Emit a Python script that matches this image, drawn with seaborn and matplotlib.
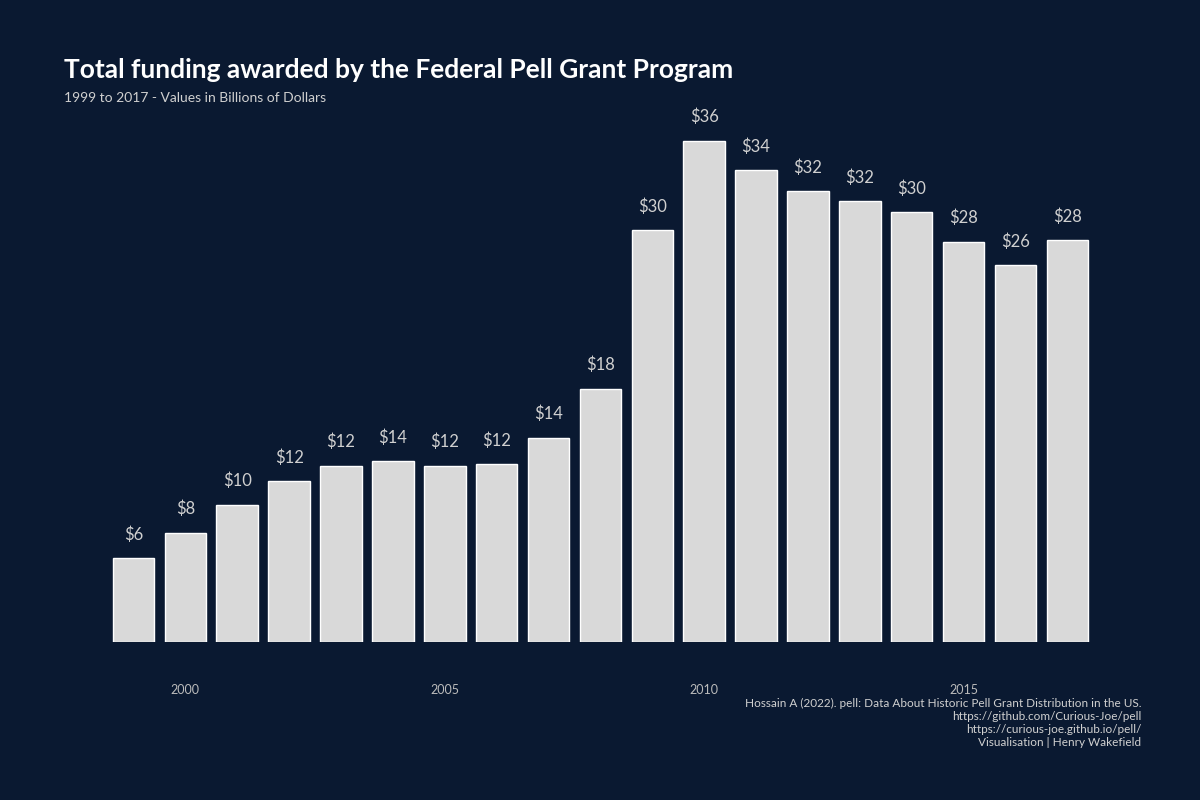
import pandas as pd
import seaborn as sns
import matplotlib.pyplot as plt

years = list(range(1999, 2018))
funding = [6.0, 7.8, 9.8, 11.5, 12.6, 12.9, 12.6, 12.7, 14.6, 18.1, 29.4,
           35.8, 33.7, 32.2, 31.5, 30.7, 28.6, 26.9, 28.7]
labels = ["$6", "$8", "$10", "$12", "$12", "$14", "$12", "$12", "$14", "$18", "$30",
          "$36", "$34", "$32", "$32", "$30", "$28", "$26", "$28"]

bg = "#0a1931"
sns.set_style("white")
plt.rcParams['font.family'] = ['Lato', 'DejaVu Sans']

df = pd.DataFrame({"year": years, "funding": funding})

fig = plt.figure(figsize=(12, 8), dpi=100, facecolor=bg)
ax = fig.add_axes([0.0896, 0.1975, 0.8215, 0.70])
ax.set_facecolor(bg)
sns.barplot(data=df, x="year", y="funding", color="#d9d9d9", width=0.8,
            saturation=1, ax=ax)

for i, (v, lab) in enumerate(zip(funding, labels)):
    ax.text(i, v + 1.1, lab, ha="center", va="bottom", color="#d0d0d0", fontsize=12)

ax.set_ylim(0, 40)
ax.set_xlim(-0.5, 18.5)
ax.set_yticks([])
ax.set_xticks([1, 6, 11, 16])
ax.set_xticklabels(["2000", "2005", "2010", "2015"], color="#bbbbbb", fontsize=9)
ax.tick_params(axis="x", length=0, pad=30)
ax.set_xlabel("")
ax.set_ylabel("")
sns.despine(ax=ax, left=True, bottom=True)

fig.text(0.053, 0.912, "Total funding awarded by the Federal Pell Grant Program",
         color="white", fontsize=19, fontweight="bold", va="center")
fig.text(0.053, 0.878, "1999 to 2017 - Values in Billions of Dollars",
         color="#d0d0d0", fontsize=10, va="center")
fig.text(0.951, 0.128,
         "Hossain A (2022). pell: Data About Historic Pell Grant Distribution in the US.\n"
         "https://github.com/Curious-Joe/pell\n"
         "https://curious-joe.github.io/pell/\n"
         "Visualisation | Henry Wakefield",
         color="#d0d0d0", fontsize=8.5, ha="right", va="top", linespacing=1.25)

fig.savefig("out.png", facecolor=bg)
